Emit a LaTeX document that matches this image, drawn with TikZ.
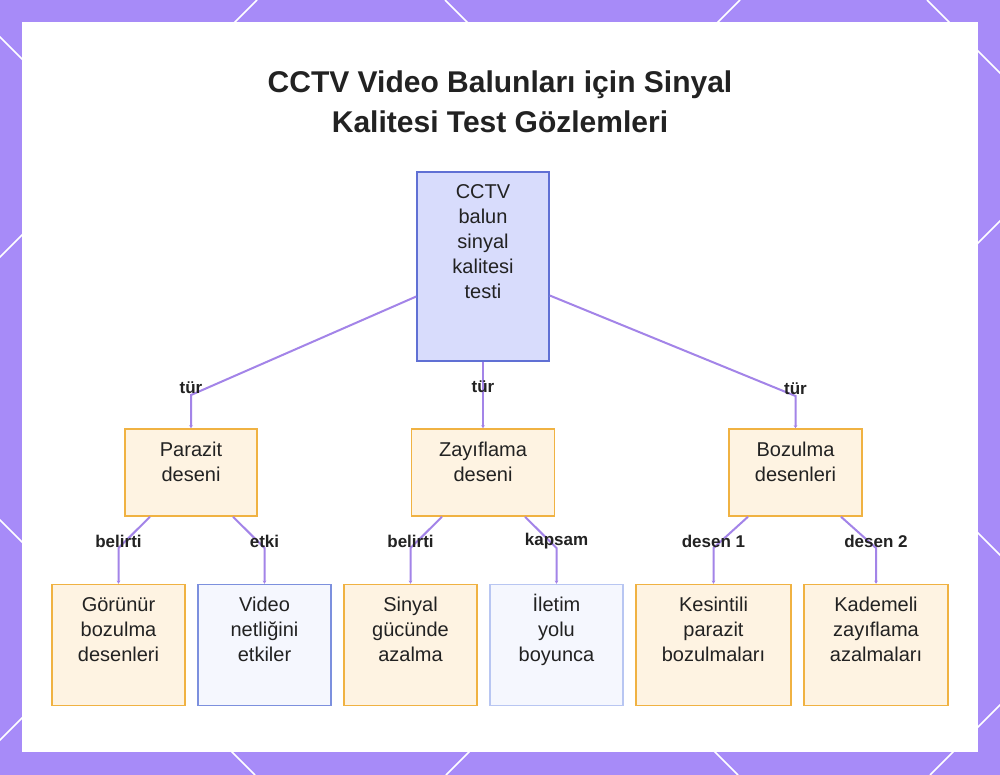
\documentclass[tikz,border=0pt]{standalone}
\usepackage{fontspec}
\setmainfont{Liberation Sans}
\usetikzlibrary{arrows.meta}
\definecolor{framebg}{RGB}{167,139,248}
\definecolor{ink}{RGB}{34,34,34}
\definecolor{edgecol}{RGB}{163,132,232}
\definecolor{rootfill}{RGB}{216,220,252}
\definecolor{rootdraw}{RGB}{96,112,212}
\definecolor{orfill}{RGB}{254,243,226}
\definecolor{ordraw}{RGB}{240,178,66}
\definecolor{blfill}{RGB}{245,247,254}
\definecolor{bldraw}{RGB}{124,144,222}
\definecolor{blpale}{RGB}{184,198,242}
\newcommand{\btext}[3]{\parbox[c][#2pt][t]{#1pt}{\centering\rule{0pt}{27pt}#3}}
\tikzstyle{basebox} = [inner sep=0pt, line width=1.5pt, text=ink, font=\fontsize{20}{25}\selectfont]
\tikzstyle{rootbox} = [basebox, draw=rootdraw, fill=rootfill]
\tikzstyle{orbox} = [basebox, draw=ordraw, fill=orfill]
\tikzstyle{blbox} = [basebox, draw=bldraw, fill=blfill]
\tikzstyle{lbl} = [text=ink, font=\fontsize{17}{17}\selectfont\bfseries, yshift=7pt]
\tikzstyle{conn} = [draw=edgecol, line width=2pt, -{Stealth[length=3pt,width=3.5pt]}]

\begin{document}
\begin{tikzpicture}[x=1pt,y=-1pt]
\useasboundingbox (0,0) rectangle (1000,775);
\clip (0,0) rectangle (1000,775);

% Frame
\fill[framebg] (0,0) rectangle (1000,775);
\foreach \c in {-520,-37,445,927} \draw[white, line width=1.5pt] (\c,0) -- (\c+775,775);
\foreach \c in {257,740,1221,1705} \draw[white, line width=1.5pt] (\c,0) -- (\c-775,775);
\fill[white] (22,22) rectangle (978,752);

% Title
\node[text=ink, align=center, font=\fontsize{30}{40}\selectfont\bfseries] (title) at (500,102)
  {CCTV Video Balunları için Sinyal\\Kalitesi Test Gözlemleri};

% Define nodes
\node[rootbox] (r)  at (483,266.5) {\btext{132}{189}{CCTV\\balun\\sinyal\\kalitesi\\testi}};

\node[orbox]   (p)  at (191,472.5)   {\btext{132}{87}{Parazit\\deseni}};
\node[orbox]   (z)  at (483,472.5)   {\btext{143}{87}{Zayıflama\\deseni}};
\node[orbox]   (bo) at (795.5,472.5) {\btext{133}{87}{Bozulma\\desenleri}};

\node[orbox]   (gb) at (118.5,645) {\btext{133}{121}{Görünür\\bozulma\\desenleri}};
\node[blbox]   (vn) at (264.5,645) {\btext{133}{121}{Video\\netliğini\\etkiler}};
\node[orbox]   (sg) at (410.5,645) {\btext{133}{121}{Sinyal\\gücünde\\azalma}};
\node[blbox, draw=blpale] (iy) at (556.5,645) {\btext{133}{121}{İletim\\yolu\\boyunca}};
\node[orbox]   (kp) at (713.5,645) {\btext{155}{121}{Kesintili\\parazit\\bozulmaları}};
\node[orbox]   (kz) at (876,645)   {\btext{144}{121}{Kademeli\\zayıflama\\azalmaları}};

% Bends
\coordinate (rp) at (191,395);
\coordinate (rz) at (483,394);
\coordinate (rb) at (795.5,396);
\coordinate (pg) at (118.5,548);
\coordinate (pv) at (264.5,548);
\coordinate (zs) at (410.5,548);
\coordinate (zi) at (556.5,548);
\coordinate (bk) at (713.5,548);
\coordinate (bz) at (876,548);

% Edges
\draw[conn] ([yshift=-30pt]r.west) -- (rp) -- (p.north);
\draw[conn] (r.south) -- (z.north);
\draw[conn] ([yshift=-29pt]r.east) -- (rb) -- (bo.north);
\draw[conn] ([xshift=-41pt]p.south) -- (pg) -- (gb.north);
\draw[conn] ([xshift=42pt]p.south) -- (pv) -- (vn.north);
\draw[conn] ([xshift=-41pt]z.south) -- (zs) -- (sg.north);
\draw[conn] ([xshift=42pt]z.south) -- (zi) -- (iy.north);
\draw[conn] ([xshift=-47.5pt]bo.south) -- (bk) -- (kp.north);
\draw[conn] ([xshift=45.5pt]bo.south) -- (bz) -- (kz.north);

% Labels
\node[lbl] at (rp) {tür};
\node[lbl] at (rz) {tür};
\node[lbl] at (rb) {tür};
\node[lbl] at (pg) {belirti};
\node[lbl] at (pv) {etki};
\node[lbl] at (zs) {belirti};
\node[lbl] at (zi) {kapsam};
\node[lbl] at (bk) {desen 1};
\node[lbl] at (bz) {desen 2};
\end{tikzpicture}
\end{document}
